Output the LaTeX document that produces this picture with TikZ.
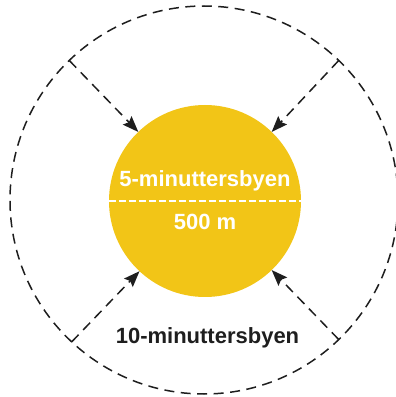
\documentclass[tikz,border=0pt]{standalone}
\usepackage{fontspec}
\setmainfont{Liberation Sans}
\usetikzlibrary{arrows.meta}
\definecolor{sunyellow}{HTML}{F2C517}
\definecolor{inkgray}{HTML}{1E1E1E}
\tikzset{
  reach/.style={draw=inkgray, line width=1.5pt, dash pattern=on 10pt off 6.5pt},
  walkarrow/.style={reach, -{Stealth[length=16pt,width=12pt,inset=2.5pt]}},
  core/.style={circle, fill=sunyellow, minimum size=192pt, inner sep=0pt, outer sep=0pt},
  ring/.style={circle, reach, minimum size=388pt, inner sep=0pt, outer sep=0pt},
  whitelabel/.style={text=white, font=\fontsize{22pt}{25pt}\selectfont\bfseries, anchor=base},
  darklabel/.style={text=inkgray, font=\fontsize{22pt}{25pt}\selectfont\bfseries, anchor=base}
}
\begin{document}
\begin{tikzpicture}[x=1pt,y=1pt]
  \useasboundingbox (0,0) rectangle (396,397);
  % walking-distance rings
  \node[ring] (outer) at (204,197) {};
  \node[core] (inner) at (205,196) {};
  % divider across the inner circle
  \draw[white, line width=1.4pt, dash pattern=on 7pt off 3pt] (inner.west) -- (inner.east);
  % labels
  \node[whitelabel] (five) at (205,210) {5-minuttersbyen};
  \node[whitelabel] (dist) at (205,167) {500 m};
  \node[darklabel] (ten) at (207.5,53) {10-minuttersbyen};
  % inward arrows from the outer ring
  \draw[walkarrow] (outer.134) -- (inner.134);
  \draw[walkarrow] (outer.46) -- (inner.46);
  \draw[walkarrow] (outer.227) -- (inner.227);
  \draw[walkarrow] (outer.314) -- (inner.314);
\end{tikzpicture}
\end{document}
